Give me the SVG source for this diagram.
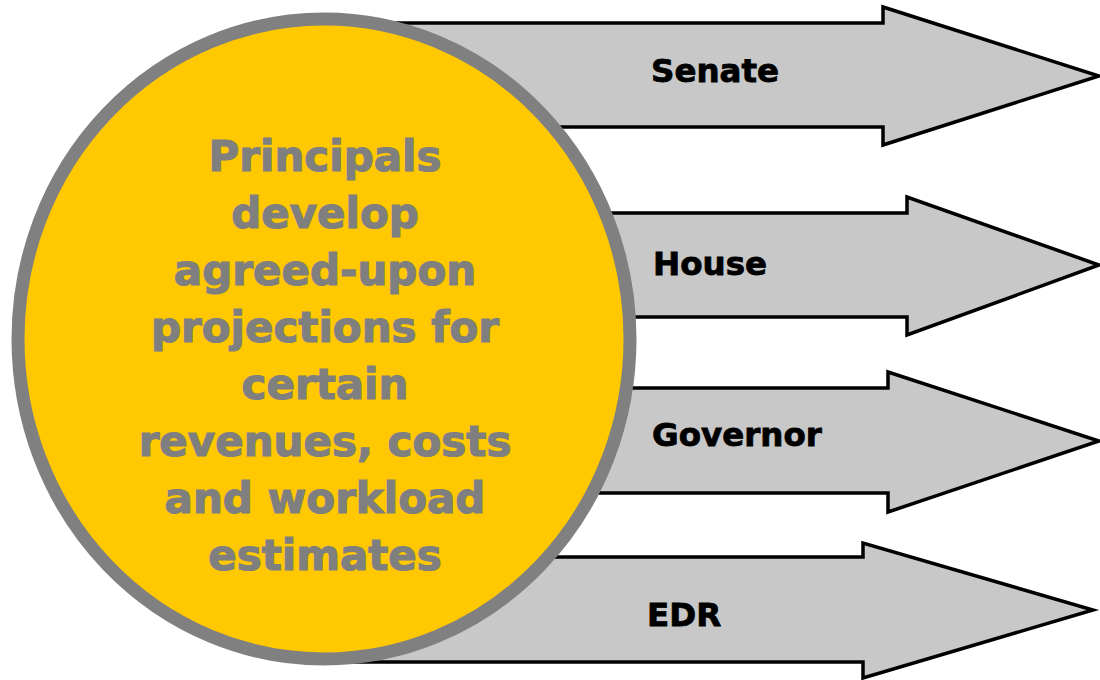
<svg xmlns="http://www.w3.org/2000/svg" width="1100" height="680" viewBox="0 0 1100 680">
<style>
.arrow{fill:#c8c8c8;stroke:#000;stroke-width:3.5;stroke-linejoin:miter}
.lbl{font-family:"DejaVu Sans",Verdana,sans-serif;font-weight:bold;font-size:32.5px;fill:#000;stroke:#000;stroke-width:0.8}
.ctext{font-family:"DejaVu Sans",Verdana,sans-serif;font-weight:bold;font-size:42px;fill:#7f7f7f;stroke:#7f7f7f;stroke-width:1.2;text-anchor:middle}
</style>
<rect x="0" y="0" width="1100" height="680" fill="#fff"/>
<g id="connectors">
<g id="arrow-senate">
<path class="arrow" d="M300,23 H883 V7 L1099,76 L883,145 V127 H300 Z"/>
<text class="lbl" x="651" y="82">Senate</text>
</g>
<g id="arrow-house">
<path class="arrow" d="M300,213 H907 V197 L1099,265 L907,335 V317 H300 Z"/>
<text class="lbl" x="653" y="275">House</text>
</g>
<g id="arrow-governor">
<path class="arrow" d="M300,388 H888 V372 L1099,441 L888,512 V493 H300 Z"/>
<text class="lbl" x="652" y="446">Governor</text>
</g>
<g id="arrow-edr">
<path class="arrow" d="M300,557 H863 V543 L1093,610 L863,678 V662 H300 Z"/>
<text class="lbl" x="647" y="626">EDR</text>
</g>
</g>
<g id="principals">
<ellipse cx="324" cy="339" rx="306" ry="320" fill="#ffc800" stroke="#808080" stroke-width="13"/>
<text class="ctext" x="325" y="171">Principals</text>
<text class="ctext" x="325" y="228">develop</text>
<text class="ctext" x="325" y="285">agreed-upon</text>
<text class="ctext" x="325" y="342">projections for</text>
<text class="ctext" x="325" y="399">certain</text>
<text class="ctext" x="325" y="456">revenues, costs</text>
<text class="ctext" x="325" y="513">and workload</text>
<text class="ctext" x="325" y="570">estimates</text>
</g>
</svg>
